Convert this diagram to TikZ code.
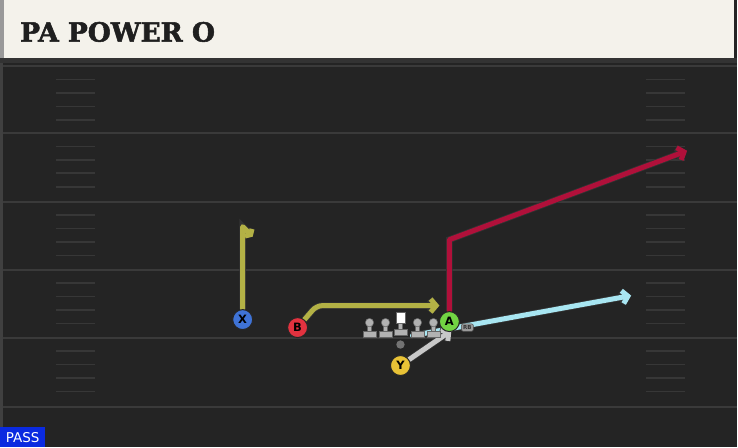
\documentclass[tikz,border=0pt]{standalone}
\usepackage{fontspec}
\setmainfont{DejaVu Sans}
\newfontfamily\titlefont[FakeBold=2]{DejaVu Serif}
\usetikzlibrary{arrows.meta}
\usetikzlibrary{positioning}

\definecolor{fieldbg}{HTML}{242424}
\definecolor{fieldline}{HTML}{3A3A3A}
\definecolor{headbg}{HTML}{F4F2EB}
\definecolor{olive}{HTML}{B3B145}
\definecolor{crimson}{HTML}{B0103A}
\definecolor{skyblue}{HTML}{A8E6F2}
\definecolor{fakegrey}{HTML}{C8C8C8}
\definecolor{xblue}{HTML}{3F73D6}
\definecolor{bred}{HTML}{E2323F}
\definecolor{agreen}{HTML}{72D443}
\definecolor{yyellow}{HTML}{E8C236}
\definecolor{passblue}{HTML}{0A2AE0}

\pgfdeclarelayer{field}
\pgfdeclarelayer{routes}
\pgfsetlayers{field,routes,main}

\begin{document}
\begin{tikzpicture}[x=1pt,y=-1pt]
    \tikzstyle{player}=[draw=black!85, line width=1pt, circle, minimum size=20pt,
      inner sep=0pt, font=\bfseries\fontsize{11.5}{11.5}\selectfont]
    \tikzstyle{route}=[line width=5pt, line cap=round, line join=round,
      preaction={draw=black!80, line width=6.6pt}]
    \tikzstyle{barb}=[-{Straight Barb[length=5.5pt,width=13pt]}]
    \tikzstyle{lineman}=[fill=black!30, draw=black!60, line width=0.5pt]

    % Field
    \begin{pgfonlayer}{field}
    \fill[fieldbg] (0,0) rectangle (738,448);
    \fill[black!80] (0,58) rectangle (738,63);
    \fill[black!75] (0,63) rectangle (3,448);
    \foreach \y in {66,133,202,270,338,408}
      \draw[fieldline, line width=2pt] (3,\y) -- (738,\y);
    \foreach \y in {66,133,202,270,338} {
      \foreach \d in {13.5,27,40.5,54} {
        \draw[fieldline!85!fieldbg, line width=1.6pt] (56,\y+\d) -- (95,\y+\d);
        \draw[fieldline!85!fieldbg, line width=1.6pt] (647,\y+\d) -- (686,\y+\d);
      }
    }
    \end{pgfonlayer}

    % Header
    \fill[headbg] (3,0) rectangle (735,58);
    \fill[black!40] (0,0) rectangle (4,58);
    \node[anchor=west, font=\titlefont\bfseries\fontsize{26.5}{26.5}\selectfont, text=black!88,
      inner sep=0pt] (title) at (20,32) {PA POWER O};

    % Line
    \foreach \x in {370,386,418,434} {
      \fill[lineman] (\x-1.8,324) rectangle (\x+1.8,333);
      \fill[lineman] (\x-6.5,332) rectangle (\x+6.5,337.5);
      \fill[lineman] (\x,323) circle (4.2);
    }
    \fill[lineman] (399.2,324) rectangle (402.8,331);
    \fill[lineman] (394.5,330) rectangle (407.5,335.5);
    \fill[white, draw=black!60, line width=0.5pt] (396.5,313) rectangle (405.5,324);
    \fill[black!55] (401,345) circle (4.2);
    \node[fill=black!40, draw=black!70, line width=0.5pt, rounded corners=2pt, inner sep=1.8pt,
      font=\bfseries\fontsize{5.5}{5.5}\selectfont, text=black!80] (rb) at (468,328) {RB};

    % Players
    \node[player, fill=xblue] (X) at (243,320) {X};
    \node[player, fill=bred] (B) at (298,328) {B};
    \node[player, fill=agreen] (A) at (450,322) {A};
    \node[player, fill=yyellow] (Y) at (401,366) {Y};

    % Routes
    \coordinate (xtop) at (243,227);
    \coordinate (xflag) at (253,237);
    \coordinate (bbend) at (317,306);
    \coordinate (bend) at (440,306);
    \coordinate (abreak) at (450,240);
    \coordinate (aend) at (688,151);
    \coordinate (cstart) at (413,336);
    \coordinate (cend) at (632,296);
    \coordinate (fake) at (452,331);

    \begin{pgfonlayer}{routes}
    \draw[route, skyblue, barb] (cstart) -- (cend);
    \draw[route, fakegrey, barb] (Y) -- (fake);
    \draw[route, olive, -{Straight Barb[length=3pt,width=10pt]}] (X) -- (xtop) -- (xflag);
    \draw[route, olive, barb, rounded corners=6pt] (B) -- (bbend) -- (bend);
    \draw[route, crimson, barb] (A) -- (abreak) -- (aend);
    \end{pgfonlayer}

    % Play type
    \node[fill=passblue, text=white, anchor=south west, minimum width=45pt, minimum height=20pt,
      inner sep=0pt, font=\fontsize{13.5}{13.5}\selectfont] (ptype) at (0,448) {PASS};
\end{tikzpicture}
\end{document}
